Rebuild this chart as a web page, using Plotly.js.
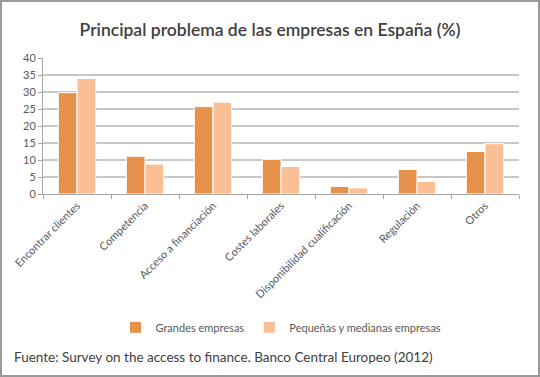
<!DOCTYPE html>
<html><head><meta charset="utf-8">
<script src="https://cdn.plot.ly/plotly-3.0.1.min.js"></script>
<style>
html,body{margin:0;padding:0;background:#fff;}
#wrap{width:536px;height:373px;border:2px solid #9a9a9a;}
</style></head>
<body><div id="wrap"><div id="chart" style="width:536px;height:373px;"></div></div>
<script>
const categories = ["Encontrar clientes","Competencia","Acceso a financiación","Costes laborales","Disponibilidad cualificación","Regulación","Otros"];
const grandes = [29.8, 11.1, 25.7, 10.2, 2.2, 7.2, 12.5];
const pymes = [34.0, 8.8, 27.0, 8.1, 1.8, 3.7, 14.8];
const seriesNames = ["Grandes empresas","Pequeñas y medianas empresas"];
const fontFam = "Lato, 'Open Sans', sans-serif";

const traces = [
  {type:'bar', x:categories, y:grandes, name:seriesNames[0],
   marker:{color:'#E5914A', line:{color:'#ffffff', width:1}}},
  {type:'bar', x:categories, y:pymes, name:seriesNames[1],
   marker:{color:'#FBBF96', line:{color:'#ffffff', width:1}}}
];

const layout = {
  width:536, height:373,
  margin:{l:41, r:19, t:56, b:181},
  paper_bgcolor:'#ffffff', plot_bgcolor:'#ffffff',
  font:{family:fontFam, color:'#595959', size:11},
  title:{text:'Principal problema de las empresas en España (%)',
    font:{family:fontFam, size:17.5, color:'#404040', weight:600},
    x:0.5, xanchor:'center', yref:'container', y:1-28/373, yanchor:'middle'},
  barmode:'group', bargap:0.45, bargroupgap:0,
  xaxis:{tickangle:-45, showline:true, linecolor:'#a6a6a6', ticks:'outside',
    tickson:'boundaries', ticklen:4, tickcolor:'#a6a6a6', showgrid:false,
    tickfont:{size:11, color:'#595959'}},
  yaxis:{range:[0,40], dtick:5, showline:true, linecolor:'#a6a6a6', ticks:'outside',
    ticklen:4, tickcolor:'#a6a6a6', gridcolor:'#c8c8c8', gridwidth:1.5,
    zeroline:false, tickfont:{size:11, color:'#595959'}},
  showlegend:true,
  legend:{orientation:'h', x:0.5, xanchor:'center', y:-0.98, yanchor:'middle',
    font:{size:11, color:'#595959'}, itemwidth:30, traceorder:'normal'},
  annotations:[{text:'Fuente: Survey on the access to finance. Banco Central Europeo (2012)',
    xref:'paper', yref:'paper', x:-0.065, xanchor:'left', y:-1.2, yanchor:'middle',
    showarrow:false, font:{size:13.5, color:'#404040', family:fontFam}}]
};
Plotly.newPlot('chart', traces, layout, {displayModeBar:false});
</script></body></html>
